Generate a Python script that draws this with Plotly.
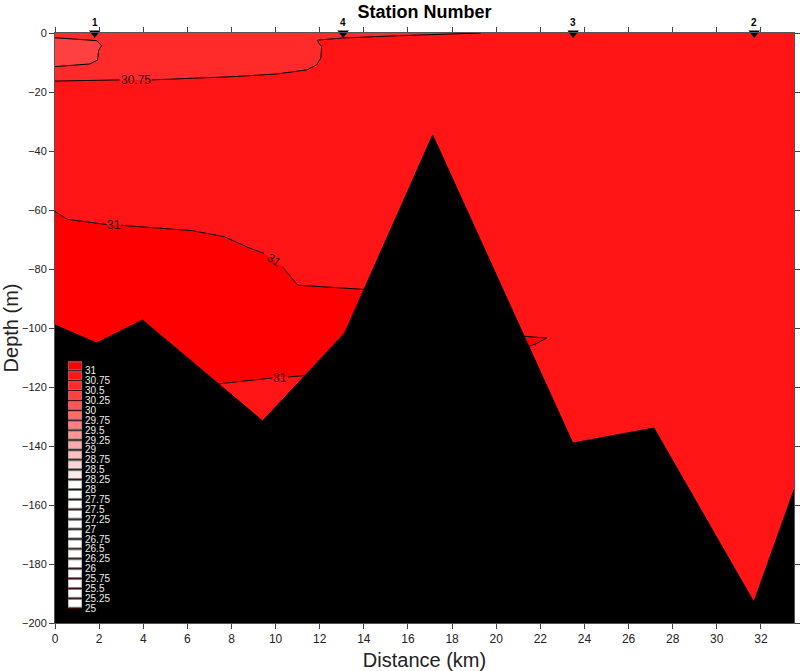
import plotly.graph_objects as go

# ---------------- data ----------------
# Bathymetry (distance km, depth m)
bathy_km = [0, 1.89, 3.97, 9.41, 13.13, 17.12, 23.47, 27.15, 31.68, 33.5]
bathy_depth = [-99.0, -105.1, -97.3, -131.5, -101.7, -34.6, -139.0, -133.9, -192.9, -154.9]

# Stations
station_names = ["1", "4", "3", "2"]
station_km = [1.80, 13.06, 23.49, 31.70]

# Isolines (None = break where a label sits)
c3075_km = [0, 2.93, None, 4.38, 8.05, 10.05, 11.41, 11.86, 12.05, 12.09, 11.95, 11.90, 13.04, 15.63, 18.49, 19.3]
c3075_depth = [-16.3, -15.9, None, -15.9, -14.8, -13.9, -12.5, -10.8, -8.5, -4.6, -3.4, -2.4, -1.7, -0.9, -0.3, 0]

c305_km = [0, 1.89, 2.11, 1.98, 1.93, 1.57, 0]
c305_depth = [-1.6, -2.6, -4.3, -5.8, -9.2, -10.5, -11.4]

c31_upper_km = [0, 0.57, 2.34, None, 2.99, 6.24, 7.69, 8.82, 9.47, None, 10.30, 11.01, 14.0, 14.4]
c31_upper_depth = [-60.5, -63.2, -64.9, None, -65.2, -67.0, -69.1, -72.9, -74.7, None, -79.2, -85.5, -86.9, -87.2]

c31_lower_km = [7.1, 7.32, 9.88, None, 10.56, 11.41, 11.8]
c31_lower_depth = [-119.2, -119.0, -116.9, None, -116.6, -116.0, -115.8]

c31_lobe_km = [20.9, 21.07, 22.29, 22.0, 21.74, 21.38, 21.2]
c31_lobe_depth = [-102.6, -102.7, -103.4, -104.6, -105.6, -106.4, -106.6]

# Contour labels
label_text = ["30.75", "31", "31", "31"]
label_km = [3.65, 2.67, 9.92, 10.22]
label_depth = [-15.9, -65.0, -77.0, -116.8]
label_angle = [0, 0, 35, 0]

# Colour key
legend_levels = [31, 30.75, 30.5, 30.25, 30, 29.75, 29.5, 29.25, 29, 28.75, 28.5, 28.25,
                 28, 27.75, 27.5, 27.25, 27, 26.75, 26.5, 26.25, 26, 25.75, 25.5, 25.25, 25]
legend_labels = ["31", "30.75", "30.5", "30.25", "30", "29.75", "29.5", "29.25", "29", "28.75",
                 "28.5", "28.25", "28", "27.75", "27.5", "27.25", "27", "26.75", "26.5",
                 "26.25", "26", "25.75", "25.5", "25.25", "25"]

X_RANGE = [0, 33.5]
Y_RANGE = [-200, 0]


def level_color(v):
    f = min(max((31 - v) / 3.0, 0.0), 1.0)
    g = int(round(255 * f))
    return f"rgb(255,{g},{g})"


def solid(xs, ys):
    px, py = [], []
    for a, b in zip(xs, ys):
        if a is not None:
            px.append(a)
            py.append(b)
    return px, py


fig = go.Figure()

# --- filled salinity bands ---
ax, ay = solid(c3075_km, c3075_depth)
fig.add_trace(go.Scatter(x=ax + [X_RANGE[0]], y=ay + [Y_RANGE[1]], fill="toself",
                         fillcolor=level_color(30.5), line=dict(width=0), mode="lines",
                         hoverinfo="skip"))
fig.add_trace(go.Scatter(x=c305_km, y=c305_depth, fill="toself",
                         fillcolor=level_color(30.25), line=dict(width=0), mode="lines",
                         hoverinfo="skip"))
ux, uy = solid(c31_upper_km, c31_upper_depth)
lx, ly = solid(c31_lower_km, c31_lower_depth)
poly_x = ux + [ux[-1]] + lx[::-1] + [X_RANGE[0]]
poly_y = uy + [(uy[-1] + ly[-1]) / 2 - 15] + ly[::-1] + [ly[0]]
fig.add_trace(go.Scatter(x=poly_x, y=poly_y, fill="toself",
                         fillcolor=level_color(31), line=dict(width=0), mode="lines",
                         hoverinfo="skip"))
fig.add_trace(go.Scatter(x=c31_lobe_km, y=c31_lobe_depth, fill="toself",
                         fillcolor=level_color(31), line=dict(width=0), mode="lines",
                         hoverinfo="skip"))

# --- isolines ---
for xs, ys in [(c3075_km, c3075_depth), (c305_km, c305_depth),
               (c31_upper_km, c31_upper_depth), (c31_lower_km, c31_lower_depth),
               (c31_lobe_km, c31_lobe_depth)]:
    fig.add_trace(go.Scatter(x=xs, y=ys, mode="lines", line=dict(color="black", width=1),
                             connectgaps=False, hoverinfo="skip"))

# --- bathymetry ---
fig.add_trace(go.Scatter(x=bathy_km + [X_RANGE[1], X_RANGE[0]],
                         y=bathy_depth + [Y_RANGE[0], Y_RANGE[0]],
                         fill="toself", fillcolor="black", mode="lines",
                         line=dict(color="black", width=1), hoverinfo="skip"))

# --- stations ---
fig.add_trace(go.Scatter(x=station_km, y=[0] * len(station_km), mode="markers",
                         marker=dict(symbol="triangle-down", size=10, color="black"),
                         cliponaxis=False, hoverinfo="skip"))
for s, x in zip(station_names, station_km):
    fig.add_annotation(x=x, y=0, text=f"<b>{s}</b>", showarrow=False, yanchor="bottom",
                       yshift=3, font=dict(size=10, color="black", family="Liberation Sans, Arial"))

# --- contour labels ---
for t, x, y, a in zip(label_text, label_km, label_depth, label_angle):
    fig.add_annotation(x=x, y=y, text=t, showarrow=False, textangle=a,
                       font=dict(size=12, color="#2a0000", family="Liberation Sans, Arial"))

# --- colour key (black underlay + coloured boxes) ---
fig.add_trace(go.Bar(x=[1] * len(legend_levels), y=legend_levels, base=0, orientation="h",
                     width=0.25, xaxis="x2", yaxis="y2",
                     marker=dict(color="black", line=dict(width=0)), hoverinfo="skip"))
fig.add_trace(go.Bar(x=[1] * len(legend_levels), y=legend_levels, base=0, orientation="h",
                     width=0.2, xaxis="x2", yaxis="y2",
                     marker=dict(color=[level_color(v) for v in legend_levels],
                                 line=dict(color="#808080", width=1)),
                     hoverinfo="skip"))

axis_font = "Liberation Sans, Arial"
fig.update_layout(
    width=800, height=671,
    margin=dict(l=55, r=6, t=33, b=48),
    paper_bgcolor="white",
    plot_bgcolor=level_color(30.75),
    showlegend=False,
    hovermode=False,
    barmode="overlay",
    title=dict(text="<b>Station Number</b>", x=0.5, xref="paper", xanchor="center",
               y=1 - 12 / 671, yref="container", yanchor="middle",
               font=dict(size=18, color="black", family=axis_font)),
    xaxis=dict(range=X_RANGE, tick0=0, dtick=2, ticks="outside", ticklen=5,
               tickcolor="#444", showline=True, linecolor="#555", linewidth=1,
               mirror="ticks", showgrid=False, zeroline=False, automargin=False,
               tickfont=dict(size=12, color="#222",
                             family="Liberation Sans Narrow, Arial Narrow, Liberation Sans"),
               title=dict(text="Distance (km)", standoff=8,
                          font=dict(size=20, color="#222", family=axis_font))),
    yaxis=dict(range=Y_RANGE, tick0=0, dtick=20, ticks="outside", ticklen=5,
               tickcolor="#444", showline=True, linecolor="#555", linewidth=1,
               mirror="ticks", showgrid=False, zeroline=False, automargin=False,
               tickfont=dict(size=11, color="#222", family=axis_font),
               title=dict(text="Depth (m)", standoff=8,
                          font=dict(size=20, color="#222", family=axis_font))),
    xaxis2=dict(domain=[13 / 739, 27 / 739], range=[0, 1], anchor="y2", visible=False,
                fixedrange=True),
    yaxis2=dict(domain=[0.025, 0.4443], range=[24.875, 31.125], anchor="x2", side="right",
                showgrid=False, zeroline=False, showline=False, ticks="", automargin=False,
                tickvals=legend_levels, ticktext=legend_labels,
                ticklabelshift=5, ticklabelstandoff=2,
                tickfont=dict(size=10, color="#eeeeee", family=axis_font)),
)

fig.write_html("out.html")
